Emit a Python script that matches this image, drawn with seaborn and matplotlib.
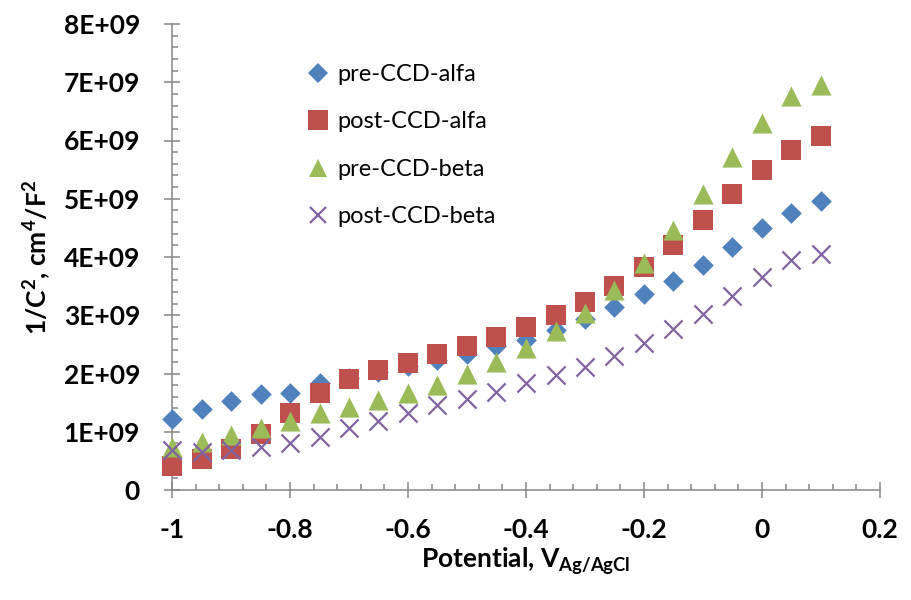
import matplotlib
matplotlib.use("Agg")
import matplotlib.pyplot as plt
import seaborn as sns
from matplotlib.lines import Line2D
from matplotlib.ticker import MultipleLocator

# Mott-Schottky data: applied potential (V vs Ag/AgCl) and 1/C^2 (cm^4/F^2)
potential = [-1.00, -0.95, -0.90, -0.85, -0.80, -0.75, -0.70, -0.65, -0.60, -0.55,
             -0.50, -0.45, -0.40, -0.35, -0.30, -0.25, -0.20, -0.15, -0.10, -0.05,
             0.00, 0.05, 0.10]

pre_ccd_alfa = [1.22e9, 1.39e9, 1.53e9, 1.64e9, 1.67e9, 1.83e9, 1.93e9, 2.02e9, 2.13e9, 2.23e9,
                2.34e9, 2.47e9, 2.58e9, 2.74e9, 2.94e9, 3.14e9, 3.36e9, 3.58e9, 3.86e9, 4.17e9,
                4.49e9, 4.76e9, 4.96e9]
post_ccd_alfa = [0.41e9, 0.53e9, 0.70e9, 0.96e9, 1.33e9, 1.66e9, 1.90e9, 2.06e9, 2.18e9, 2.34e9,
                 2.47e9, 2.63e9, 2.80e9, 3.00e9, 3.22e9, 3.50e9, 3.83e9, 4.20e9, 4.63e9, 5.09e9,
                 5.50e9, 5.83e9, 6.07e9]
pre_ccd_beta = [0.73e9, 0.83e9, 0.94e9, 1.06e9, 1.19e9, 1.32e9, 1.43e9, 1.54e9, 1.66e9, 1.80e9,
                2.00e9, 2.20e9, 2.44e9, 2.73e9, 3.04e9, 3.43e9, 3.89e9, 4.46e9, 5.09e9, 5.72e9,
                6.30e9, 6.76e9, 6.96e9]
post_ccd_beta = [0.68e9, 0.66e9, 0.68e9, 0.74e9, 0.81e9, 0.91e9, 1.06e9, 1.19e9, 1.32e9, 1.46e9,
                 1.56e9, 1.69e9, 1.83e9, 1.97e9, 2.11e9, 2.30e9, 2.53e9, 2.76e9, 3.03e9, 3.33e9,
                 3.66e9, 3.95e9, 4.05e9]

series_labels = ["pre-CCD-alfa", "post-CCD-alfa", "pre-CCD-beta", "post-CCD-beta"]

x_ticks = [-1.0, -0.8, -0.6, -0.4, -0.2, 0.0, 0.2]
x_tick_labels = ["-1", "-0.8", "-0.6", "-0.4", "-0.2", "0", "0.2"]
y_ticks = [0, 1e9, 2e9, 3e9, 4e9, 5e9, 6e9, 7e9, 8e9]
y_tick_labels = ["0", "1E+09", "2E+09", "3E+09", "4E+09", "5E+09", "6E+09", "7E+09", "8E+09"]

sns.set_theme(style="white")
plt.rcParams["font.family"] = ["Lato", "DejaVu Sans"]
plt.rcParams["mathtext.default"] = "regular"
plt.rcParams["text.color"] = "black"
plt.rcParams["axes.labelcolor"] = "black"

AXIS_GREY = "#868686"
styles = [
    dict(marker="D", color="#4F81BD", s=110),
    dict(marker="s", color="#C0504D", s=225),
    dict(marker="^", color="#9BBB59", s=210),
    dict(marker="x", color="#8064A2", s=170),
]
series_values = [pre_ccd_alfa, post_ccd_alfa, pre_ccd_beta, post_ccd_beta]

fig = plt.figure(figsize=(9.12, 6.0), dpi=100)
ax = fig.add_axes([172 / 912, 1 - 490 / 600, (880 - 172) / 912, (490 - 24) / 600])

for vals, st, lab in zip(series_values, styles, series_labels):
    if st["marker"] == "x":
        sns.scatterplot(x=potential, y=vals, marker="x", color=st["color"], s=st["s"],
                        linewidth=1.6, ax=ax, clip_on=False, zorder=3, label=lab, legend=False)
    else:
        sns.scatterplot(x=potential, y=vals, marker=st["marker"], color=st["color"], s=st["s"],
                        edgecolor=st["color"], linewidth=0, ax=ax, clip_on=False, zorder=3,
                        label=lab, legend=False)

ax.set_xlim(-1.0, 0.2)
ax.set_ylim(0, 8e9)
ax.set_xticks(x_ticks, x_tick_labels)
ax.set_yticks(y_ticks, y_tick_labels)
ax.xaxis.set_minor_locator(MultipleLocator(0.04))
ax.yaxis.set_minor_locator(MultipleLocator(2e8))

for side in ["top", "right"]:
    ax.spines[side].set_visible(False)
for side in ["left", "bottom"]:
    ax.spines[side].set_color(AXIS_GREY)
    ax.spines[side].set_linewidth(1.1)

ax.tick_params(axis="both", which="major", direction="inout", length=12, width=1.1,
               color=AXIS_GREY, labelsize=19, labelcolor="black")
ax.tick_params(axis="y", which="major", pad=17)
ax.tick_params(axis="x", which="major", pad=14)
ax.tick_params(axis="both", which="minor", direction="in", length=4.5, width=1.1,
               color=AXIS_GREY)
ax.tick_params(axis="x", which="both", bottom=True)
ax.tick_params(axis="y", which="both", left=True)
for lbl in ax.get_xticklabels() + ax.get_yticklabels():
    lbl.set_fontweight("bold")

ax.set_xlabel("Potential, V$_{Ag/AgCl}$", fontsize=19, fontweight="bold", labelpad=3,
              color="black")
ax.set_ylabel("1/C$^{2}$, cm$^{4}$/F$^{2}$", fontsize=19, fontweight="bold", labelpad=7,
              color="black")

handles = [
    Line2D([], [], linestyle="none", marker="D", markersize=10, color="#4F81BD", markeredgewidth=0),
    Line2D([], [], linestyle="none", marker="s", markersize=14, color="#C0504D", markeredgewidth=0),
    Line2D([], [], linestyle="none", marker="^", markersize=13.5, color="#9BBB59", markeredgewidth=0),
    Line2D([], [], linestyle="none", marker="x", markersize=11, color="#8064A2", markeredgewidth=1.6),
]
ax.legend(handles, series_labels, loc="upper left", bbox_to_anchor=(306 / 912, 1 - 64 / 600),
          bbox_transform=fig.transFigure, frameon=False, fontsize=17, handlelength=1.0,
          handletextpad=0.35, labelspacing=1.12, borderpad=0, borderaxespad=0)

fig.savefig("out.png", dpi=100)
